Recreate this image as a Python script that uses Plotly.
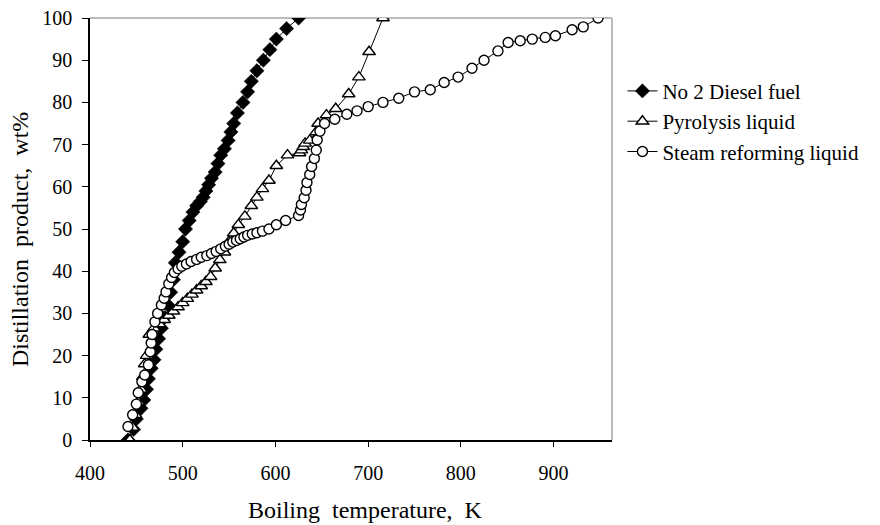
import plotly.graph_objects as go

# ---- data ----
diesel_T = [441, 447, 450, 455, 458, 461, 463, 466, 469, 471, 474, 477, 480, 484, 487, 490,
            492, 496, 500, 503, 507, 511, 515, 519, 522, 525, 528, 531, 535, 538, 541, 545,
            549, 552, 555, 559, 565, 570, 574, 580, 587, 594, 601, 612, 625]
diesel_Y = [0, 2.5, 5, 7.5, 9.5, 12, 14.5, 17, 19, 21.5, 24, 26.5, 29, 32, 35, 38,
            42, 44.5, 47, 50, 52, 54, 55.5, 56.5, 57.5, 59, 60.5, 62, 63.5, 65.5, 67.5, 69,
            71, 73, 75, 77.5, 80, 82.5, 85, 87.5, 90, 92.5, 95, 97.5, 100]

pyro_T = [443, 446, 449, 452, 455, 457, 459, 461, 464, 469, 475, 480, 485, 490, 495, 500,
          505, 510, 515, 520, 525, 530, 535, 540, 545, 550, 555, 560, 567, 574, 580, 586,
          593, 601, 613, 626, 628, 630, 632, 637, 644, 646, 655, 665, 679, 690, 701, 716]
pyro_Y = [0, 3, 6, 9, 12, 15, 18, 20, 25, 26.5, 27.5, 28.5, 29.5, 30.5, 31.5, 32.5,
          33.5, 34.5, 35.5, 36.5, 37.5, 38.7, 40.7, 42.7, 44.5, 47, 49, 51, 53, 55.5, 57.5, 59.5,
          61.5, 65, 67.5, 68, 68.7, 69.5, 70.3, 71, 73, 75, 77, 78.5, 82, 86, 92, 100]

steam_T = [441, 446, 450, 452, 456, 459, 463, 465, 466, 467, 470, 473, 477, 480, 482, 485,
           488, 491, 495, 499, 504, 509, 515, 520, 526, 531, 536, 541, 546, 550, 554, 558,
           562, 566, 570, 575, 580, 586, 593, 601, 611, 625, 627, 628, 631, 633, 634, 637,
           639, 642, 644, 645, 648, 653, 664, 677, 688, 700, 716, 733, 750, 767, 782, 797,
           812, 825, 840, 851, 864, 877, 891, 902, 920, 932, 948]
steam_Y = [3.2, 6, 8.5, 11.2, 13.8, 15.4, 17.8, 20.9, 23, 25, 28, 30, 32, 33.6, 35.1, 37,
           38.5, 39.7, 40.6, 41.2, 41.7, 42.3, 42.8, 43.3, 43.7, 44.2, 44.7, 45.3, 45.9, 46.4, 46.9, 47.3,
           47.7, 48.1, 48.5, 48.8, 49.1, 49.5, 50, 51, 52, 53.2, 54.5, 55.8, 57.4, 59.2, 61, 62.9,
           64.8, 66.7, 68.7, 71.1, 73.2, 75, 76, 77.2, 78, 79, 80, 81, 82.5, 83, 84.7, 86,
           88.1, 90, 92.2, 94.2, 94.6, 95, 95.4, 95.8, 97.2, 97.9, 100]

x_ticks = [400, 500, 600, 700, 800, 900]
y_ticks = [0, 10, 20, 30, 40, 50, 60, 70, 80, 90, 100]

FONT = "Liberation Serif"
NB = "\u00a0\u00a0"

fig = go.Figure()
fig.add_trace(go.Scatter(
    x=diesel_T, y=diesel_Y, mode="lines+markers", name="No 2 Diesel fuel",
    line=dict(color="black", width=1),
    marker=dict(symbol="diamond", size=11, color="black", line=dict(color="black", width=0.5))))
fig.add_trace(go.Scatter(
    x=pyro_T, y=pyro_Y, mode="lines+markers", name="Pyrolysis liquid",
    line=dict(color="black", width=1),
    marker=dict(symbol="triangle-up", size=11, color="white", line=dict(color="black", width=1.4))))
fig.add_trace(go.Scatter(
    x=steam_T, y=steam_Y, mode="lines+markers", name="Steam reforming liquid",
    line=dict(color="black", width=1),
    marker=dict(symbol="circle", size=10, color="white", line=dict(color="black", width=1.4))))

# top and right frame lines (grey)
fig.add_shape(type="line", xref="paper", yref="paper", x0=0, x1=1, y0=1, y1=1,
              line=dict(color="#a6a6a6", width=1.5), layer="below")
fig.add_shape(type="line", xref="paper", yref="paper", x0=1, x1=1, y0=0, y1=1,
              line=dict(color="#a6a6a6", width=1.5), layer="below")

fig.update_layout(
    width=880, height=525,
    margin=dict(l=90, r=268, t=18, b=85),
    paper_bgcolor="white", plot_bgcolor="white",
    font=dict(family=FONT, size=20, color="black"),
    showlegend=True,
    legend=dict(x=1.02, y=0.875, xanchor="left", yanchor="top",
                font=dict(family=FONT, size=21, color="black"),
                bgcolor="rgba(0,0,0,0)", tracegroupgap=0, itemwidth=30),
    xaxis=dict(range=[400, 963], tickvals=x_ticks, ticks="outside", ticklen=5,
               tickcolor="black", showline=True, linecolor="black", linewidth=1.5,
               showgrid=False, zeroline=False, ticklabelstandoff=9,
               tickfont=dict(family=FONT, size=20), automargin=False),
    yaxis=dict(range=[0, 100], tickvals=y_ticks, ticks="outside", ticklen=6,
               tickcolor="black", showline=True, linecolor="black", linewidth=1.5,
               showgrid=False, zeroline=False, ticklabelstandoff=6,
               tickfont=dict(family=FONT, size=20), automargin=False),
    annotations=[
        dict(text="Boiling" + NB + "temperature," + NB + "K", xref="paper", yref="paper",
             x=(365 - 90) / 522, y=(440 - 510) / 422, xanchor="center", yanchor="middle",
             showarrow=False, font=dict(family=FONT, size=24)),
        dict(text="Distillation" + NB + "product," + NB + "wt%", xref="paper", yref="paper",
             x=(20 - 90) / 522, y=(440 - 240) / 422, xanchor="center", yanchor="middle",
             textangle=-90, showarrow=False, font=dict(family=FONT, size=24)),
    ],
)

fig.write_html("out.html", config={"displayModeBar": False},
               post_script="document.body.style.margin='0';document.body.style.padding='0';")
